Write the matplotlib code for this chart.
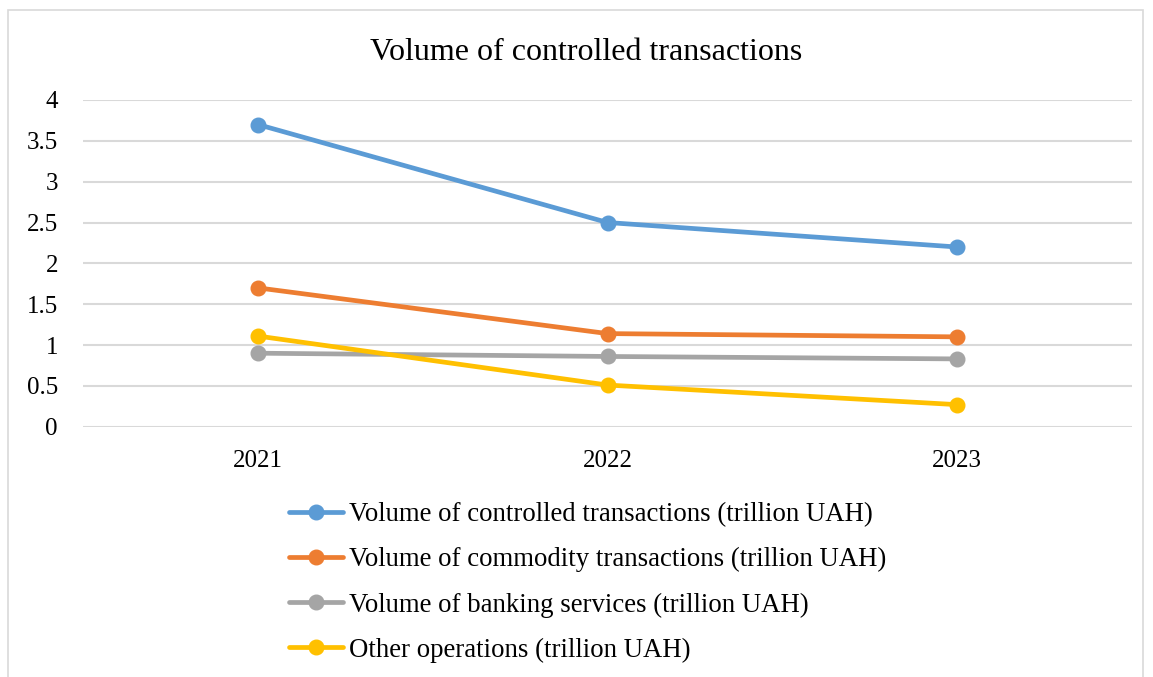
import matplotlib
matplotlib.use("Agg")
import matplotlib.pyplot as plt
from matplotlib.patches import Rectangle

plt.rcParams['font.family'] = ['Liberation Serif', 'DejaVu Serif']

years = ["2021", "2022", "2023"]
controlled = [3.70, 2.50, 2.20]
commodity = [1.70, 1.14, 1.10]
banking = [0.90, 0.86, 0.83]
other = [1.11, 0.51, 0.27]

series_labels = [
    "Volume of controlled transactions (trillion UAH)",
    "Volume of commodity transactions (trillion UAH)",
    "Volume of banking services (trillion UAH)",
    "Other operations (trillion UAH)",
]
colors = ["#5B9BD5", "#ED7D31", "#A5A5A5", "#FFC000"]
yticks = [0, 0.5, 1, 1.5, 2, 2.5, 3, 3.5, 4]
ytick_labels = ["0", "0.5", "1", "1.5", "2", "2.5", "3", "3.5", "4"]

W, H = 1153, 677
fig = plt.figure(figsize=(W / 100, H / 100), dpi=100)
fig.patches.append(Rectangle((8 / W, -0.01), (1143 - 8) / W, 1 - 10 / H + 0.01,
                             transform=fig.transFigure, fill=False,
                             edgecolor="#D9D9D9", linewidth=1.2))

ax = fig.add_axes([83 / W, 1 - 426.7 / H, (1132 - 83) / W, (426.7 - 100) / H])
x = list(range(len(years)))
for vals, lab, c in zip([controlled, commodity, banking, other], series_labels, colors):
    ax.plot(x, vals, color=c, linewidth=3.4, marker="o", markersize=10.5,
            label=lab, solid_capstyle="round", zorder=3)

ax.set_xlim(-0.5, 2.5)
ax.set_ylim(0, 4)
ax.set_yticks(yticks)
ax.set_yticklabels(ytick_labels)
ax.set_xticks(x)
ax.set_xticklabels(years)
ax.tick_params(axis="both", length=0, labelsize=18, colors="black")
ax.tick_params(axis="y", pad=18)
ax.tick_params(axis="x", pad=16.5)
ax.grid(axis="y", color="#D9D9D9", linewidth=1.5, zorder=0)
for s in ax.spines.values():
    s.set_visible(False)

fig.text(586 / W, 1 - 52 / H, "Volume of controlled transactions",
         ha="center", va="center", fontsize=23)

handles, labels = ax.get_legend_handles_labels()
fig.legend(handles, labels, loc="upper left",
           bbox_to_anchor=(289 / W, 1 - 502 / H), frameon=False,
           fontsize=19.3, handlelength=2.0, handletextpad=0.22,
           labelspacing=0.75, borderaxespad=0, borderpad=0)

fig.savefig("out.png", dpi=100)
